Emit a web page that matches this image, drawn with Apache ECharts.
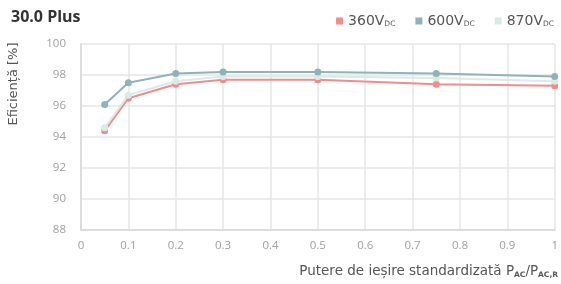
<!DOCTYPE html>
<html>
<head>
<meta charset="utf-8">
<script src="https://cdn.jsdelivr.net/npm/echarts@6/dist/echarts.min.js"></script>
<style>
  html, body { margin: 0; padding: 0; background: #fff; }
  #chart { width: 561px; height: 284px; }
</style>
</head>
<body>
<div id="chart"></div>
<script>
var myChart = echarts.init(document.getElementById('chart'), null, {renderer: 'canvas'});

// date
var putere = [0.05, 0.1, 0.2, 0.3, 0.5, 0.75, 1];
var v360 = [94.4, 96.5, 97.4, 97.7, 97.7, 97.4, 97.3];
var v600 = [96.1, 97.5, 98.1, 98.2, 98.2, 98.1, 97.9];
var v870 = [94.6, 96.7, 97.6, 97.9, 97.9, 97.8, 97.6];

var numeSerii = ['360V', '600V', '870V'];
var culori = ['#f28b8b', '#8eb3bb', '#d8ebe6'];

function perechi(xs, ys) {
    return xs.map(function (x, i) { return [x, ys[i]]; });
}

function serie(idx, valori, z) {
    return {
        name: numeSerii[idx],
        type: 'line',
        data: perechi(putere, valori),
        symbol: 'circle',
        symbolSize: 7,
        z: z,
        lineStyle: { width: 2, color: culori[idx] },
        itemStyle: { color: culori[idx] }
    };
}

var font = 'DejaVu Sans';
var fontTick = 'Open Sans';

option = {
    animation: false,
    title: {
        text: '30.0 Plus',
        left: 6,
        top: 4,
        textStyle: { fontSize: 16, fontWeight: 'bold', color: '#333', fontFamily: 'Open Sans' }
    },
    legend: {
        data: numeSerii,
        right: 2,
        top: 9,
        icon: 'rect',
        itemWidth: 7,
        itemHeight: 7,
        itemGap: 20,
        formatter: function (name) {
            return '{a|' + name + '}{s|DC}';
        },
        textStyle: {
            color: '#555',
            fontFamily: font,
            rich: {
                a: { fontSize: 14, color: '#555', fontFamily: font },
                s: { fontSize: 7.5, color: '#555', fontFamily: font, verticalAlign: 'bottom', padding: [7, 0, 0, 0] }
            }
        }
    },
    grid: { left: 81, right: 5, top: 44, bottom: 54 },
    xAxis: {
        type: 'value',
        min: 0,
        max: 1,
        interval: 0.1,
        axisLine: { lineStyle: { color: '#dcdcdc', width: 2 } },
        axisTick: { show: false },
        splitLine: { show: true, lineStyle: { color: '#e6e6e6', width: 1.5 } },
        axisLabel: { color: '#a0a0a0', fontSize: 11.5, margin: 10, fontFamily: fontTick }
    },
    yAxis: {
        type: 'value',
        min: 88,
        max: 100,
        interval: 2,
        axisLine: { show: true, lineStyle: { color: '#dcdcdc', width: 2 } },
        axisTick: { show: false },
        splitLine: { show: true, lineStyle: { color: '#e6e6e6', width: 1.5 } },
        axisLabel: { color: '#a0a0a0', fontSize: 11.5, margin: 15, fontFamily: fontTick }
    },
    graphic: [
        {
            type: 'text',
            x: 14,
            y: 84,
            rotation: Math.PI / 2,
            style: {
                text: 'Eficiență [%]',
                fill: '#555',
                fontSize: 13,
                fontFamily: font,
                align: 'center',
                verticalAlign: 'middle'
            }
        },
        {
            type: 'text',
            right: 3,
            top: 264,
            style: {
                text: 'Putere de ieșire standardizată P{s|AC}/P{s|AC,R}',
                fill: '#555',
                fontSize: 13.5,
                fontFamily: font,
                rich: {
                    s: { fontSize: 7.5, fontWeight: 'bold', fill: '#555', fontFamily: font, padding: [8, 0, 0, 0] }
                }
            }
        }
    ],
    series: [
        serie(0, v360, 2),
        serie(1, v600, 4),
        serie(2, v870, 3)
    ]
};

myChart.setOption(option);
</script>
</body>
</html>
